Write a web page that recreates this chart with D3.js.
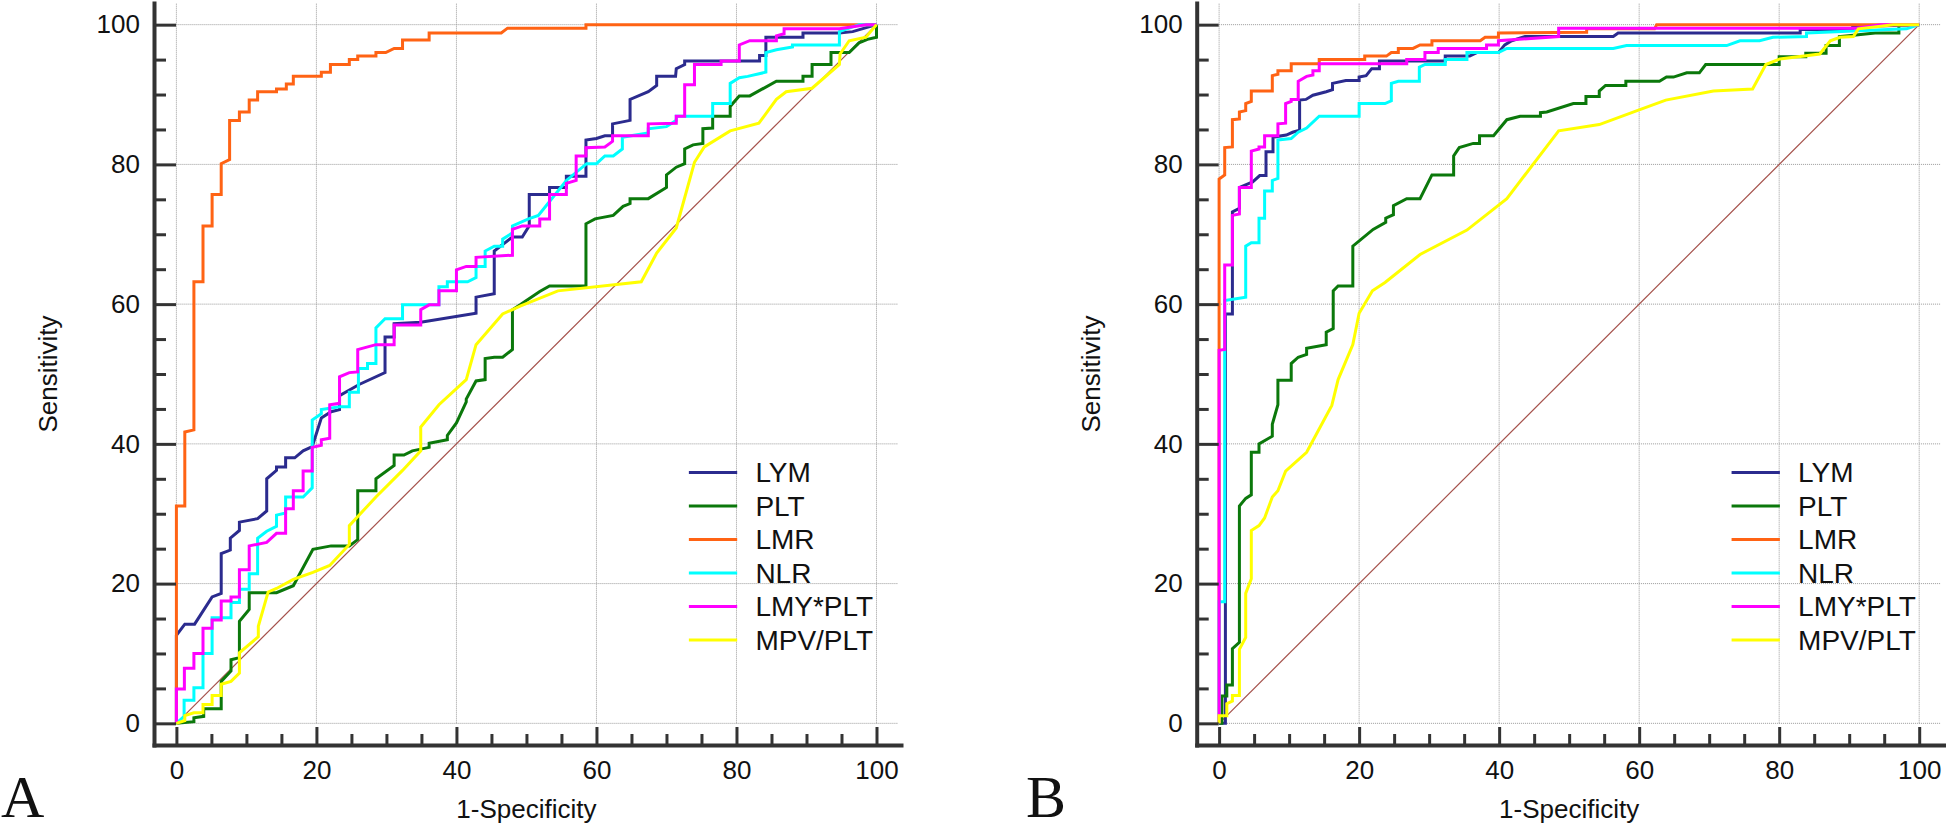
<!DOCTYPE html>
<html>
<head>
<meta charset="utf-8">
<script src="https://cdn.jsdelivr.net/npm/d3@7"></script>
<style>
body { margin: 0; background: #fff; }
svg text { font-family: "Liberation Sans", Arial, sans-serif; fill: #111; }
</style>
</head>
<body>
<svg id="chart" width="1946" height="831"></svg>
<script>
const seriesNames = ['LYM', 'PLT', 'LMR', 'NLR', 'LMY*PLT', 'MPV/PLT']
const seriesColors = ['#2b2b8e', '#0b780b', '#ff6314', '#00ffff', '#ff00ff', '#ffff00']
const majorTicks = [0, 20, 40, 60, 80, 100]
const minorTicks = [5, 10, 15, 25, 30, 35, 45, 50, 55, 65, 70, 75, 85, 90, 95]
const panelLetters = ['A', 'B']

// panel A curves, [1-specificity, sensitivity]
const lymA = [[0,0],[0,12.6],[1.2,14.2],[2.6,14.2],[5.1,18.1],[6.4,18.6],[6.4,24.3],[7.7,24.8],[7.7,26.5],[9.0,27.6],[9.0,28.8],[11.6,29.3],[12.9,30.4],[12.9,35.0],[14.3,36.2],[14.3,36.7],[15.6,36.7],[15.6,38.0],[16.9,38.0],[18.1,39.0],[19.4,39.6],[20.7,43.7],[22.1,44.6],[23.3,44.9],[23.3,46.9],[26.1,48.5],[29.8,50.2],[29.8,55.3],[31.1,55.3],[31.1,57.2],[34.9,57.4],[42.8,58.7],[42.8,61.0],[45.4,61.5],[45.4,67.6],[48.0,69.6],[49.4,69.6],[50.4,71.2],[50.4,75.7],[53.3,75.7],[53.3,76.7],[55.7,76.7],[55.7,78.3],[58.5,78.3],[58.5,83.5],[60.0,83.7],[61.2,84.1],[62.3,84.1],[62.3,85.8],[64.8,86.3],[64.8,89.3],[67.4,90.4],[68.6,91.3],[68.6,92.6],[71.3,92.6],[71.4,93.7],[72.6,94.3],[72.6,94.8],[83.3,94.8],[83.3,95.6],[84.2,95.6],[84.2,98.2],[89.5,98.2],[89.5,98.8],[94.7,98.8],[96.6,99.0],[100,100]]
const pltA = [[0,0],[2.5,0.24],[2.5,0.8],[3.9,1.0],[3.9,2.1],[6.4,2.1],[6.4,6.0],[7.8,7.5],[7.8,9.1],[9.0,9.4],[9.0,14.6],[10.4,16.3],[10.4,18.7],[14.3,18.7],[16.7,19.7],[19.5,24.9],[22.1,25.4],[24.7,25.4],[25.9,26.3],[25.9,33.3],[28.5,33.3],[28.5,35.0],[31.1,36.9],[31.1,38.4],[32.5,38.4],[33.7,39.0],[36.1,39.5],[36.1,40.1],[38.7,40.6],[38.7,41.2],[40.0,43.0],[41.4,46.0],[41.4,46.4],[42.8,49.0],[44.1,49.2],[44.1,52.2],[45.4,52.4],[46.6,52.4],[48.0,53.5],[48.0,59.2],[49.1,59.9],[51.9,61.8],[53.3,62.6],[58.5,62.6],[58.5,71.5],[59.8,72.2],[62.4,72.7],[63.8,74.0],[64.8,74.4],[64.8,75.1],[67.4,75.1],[70.0,76.7],[70.0,78.5],[71.4,79.6],[72.6,80.1],[72.6,82.2],[73.8,82.8],[75.2,83.0],[75.2,85.1],[76.6,85.2],[76.6,86.9],[79.1,86.9],[79.1,88.3],[80.4,89.8],[81.9,89.8],[85.7,91.9],[89.5,91.9],[89.5,92.6],[90.8,92.6],[90.8,94.3],[93.5,94.3],[93.5,96.0],[96.1,96.0],[97.5,97.4],[98.7,97.9],[100,98.2],[100,100]]
const lmrA = [[0,0],[0,31.1],[1.2,31.1],[1.2,41.7],[2.5,42.0],[2.5,63.2],[3.8,63.2],[3.8,71.2],[5.1,71.2],[5.1,75.7],[6.4,75.7],[6.4,80.1],[7.6,80.7],[7.6,86.3],[9.0,86.3],[9.0,87.5],[10.4,87.5],[10.4,89.2],[11.6,89.2],[11.6,90.4],[14.3,90.4],[14.3,90.8],[15.7,90.8],[15.7,91.5],[16.7,91.5],[16.7,92.6],[20.7,92.6],[20.7,93.2],[22.0,93.2],[22.0,94.3],[24.7,94.3],[24.7,95.0],[25.9,95.0],[25.9,95.5],[28.5,95.5],[28.5,96.0],[29.9,96.0],[31.1,96.6],[32.3,96.6],[32.3,97.8],[36.1,97.8],[36.1,98.8],[46.4,98.8],[47.3,99.5],[58.5,99.5],[58.5,100],[100,100]]
const nlrA = [[0,0],[1.1,1.0],[1.1,3.3],[2.5,3.3],[2.5,5.1],[3.8,5.1],[3.8,10.0],[5.1,10.0],[5.1,15.1],[7.8,15.1],[7.8,17.3],[9.0,17.3],[9.0,19.2],[10.4,19.2],[10.4,21.4],[11.6,21.4],[11.6,26.5],[12.9,27.5],[14.3,28.2],[14.3,29.8],[15.6,30.1],[15.6,32.4],[18.1,32.4],[19.4,33.7],[19.4,43.4],[20.7,44.3],[20.7,44.9],[23.3,45.3],[24.7,45.3],[24.7,47.4],[26.0,47.4],[26.0,50.8],[27.3,50.8],[27.3,51.5],[28.5,51.5],[28.5,56.6],[29.8,57.9],[32.3,57.9],[32.3,59.9],[37.5,59.9],[37.5,62.5],[38.7,62.5],[38.7,63.2],[41.6,63.2],[42.8,63.8],[42.8,65.4],[44.1,65.4],[44.1,67.6],[45.4,68.3],[46.6,68.3],[46.6,69.3],[48.0,70.2],[48.0,71.2],[50.3,72.2],[51.7,72.7],[55.7,77.7],[58.6,80.1],[60.0,80.1],[61.2,81.2],[62.4,81.2],[63.7,82.2],[63.7,83.9],[67.4,84.5],[67.4,85.1],[70.0,85.4],[71.4,86.3],[71.4,86.9],[76.6,86.9],[76.6,88.7],[79.1,88.7],[79.1,91.6],[80.4,92.4],[81.6,92.6],[84.2,93.2],[84.2,96.0],[85.7,96.4],[88.0,96.8],[88.0,97.1],[94.7,97.1],[94.7,99.0],[96.1,99.5],[97.5,100],[100,100]]
const lmyA = [[0,0],[0,4.9],[1.14,4.9],[1.14,7.9],[2.5,7.9],[2.5,10.0],[3.8,10.0],[3.8,13.6],[5.1,13.6],[5.1,14.8],[6.4,14.8],[6.4,17.5],[7.8,17.5],[7.8,18.1],[9.0,18.1],[9.0,22.0],[10.4,22.0],[10.4,25.4],[12.9,25.9],[14.3,27.2],[15.6,27.2],[15.6,30.7],[16.7,30.7],[16.7,33.3],[18.1,33.3],[18.1,36.1],[19.4,36.1],[19.4,39.5],[20.7,39.8],[20.7,40.6],[21.9,40.8],[21.9,45.6],[23.3,45.8],[23.3,49.6],[24.7,50.2],[25.9,50.3],[25.9,53.5],[28.5,54.2],[31.1,54.2],[31.1,57.0],[34.9,57.0],[34.9,59.2],[36.1,59.9],[37.5,59.9],[37.5,61.9],[40.0,61.9],[40.0,64.9],[41.4,65.4],[42.8,65.4],[42.8,66.7],[48.0,67.0],[48.0,70.7],[49.4,71.2],[51.9,71.2],[51.9,72.2],[53.3,72.2],[53.3,75.7],[55.7,75.7],[55.7,77.3],[57.1,77.7],[57.1,81.2],[58.5,81.2],[58.5,82.4],[61.2,82.5],[62.3,83.3],[62.3,84.1],[67.4,84.1],[67.4,85.8],[71.4,85.9],[71.4,86.9],[72.6,86.9],[72.6,91.4],[74.0,91.4],[74.0,94.3],[77.8,94.3],[77.8,94.8],[80.4,94.8],[80.4,97.1],[81.9,97.7],[85.7,97.7],[85.7,98.4],[86.8,98.7],[86.8,99.4],[94.7,99.4],[98.5,100],[100,100]]
const mpvA = [[0,0],[1.2,0.4],[1.2,1.1],[2.5,1.5],[3.8,1.5],[3.8,2.7],[5.1,2.7],[5.1,4.0],[6.4,4.0],[6.4,5.6],[7.8,6.0],[9.0,7.2],[9.0,10.1],[11.7,12.4],[11.7,13.9],[13.1,18.8],[14.3,19.3],[16.7,20.6],[19.5,21.6],[21.9,22.6],[24.7,25.6],[24.7,28.3],[28.5,32.4],[32.3,36.2],[34.9,39.0],[34.9,42.4],[37.5,45.6],[41.4,49.2],[42.8,54.2],[46.6,58.6],[49.1,59.7],[54.5,61.9],[66.4,63.2],[68.6,67.3],[71.4,70.9],[74.0,80.3],[75.4,82.5],[79.1,84.8],[83.2,85.9],[85.7,89.3],[87.1,90.4],[90.8,90.9],[94.7,94.3],[94.8,95.8],[96.1,97.7],[98.5,98.2],[100,100]]

// panel B curves
const lymB = [[0,0],[0.9,0],[0.9,58.6],[1.9,58.6],[1.9,73.2],[2.9,73.7],[2.9,76.7],[4.8,77.5],[5.8,78.4],[6.7,78.4],[6.7,81.8],[7.7,81.8],[7.7,83.9],[9.6,84.2],[10.5,84.6],[11.5,84.9],[11.5,89.2],[12.4,89.3],[13.4,89.9],[15.3,90.4],[16.2,90.7],[16.2,91.6],[18.1,92.0],[20.0,92.0],[20.0,92.5],[21.0,92.7],[21.8,93.7],[22.9,93.7],[22.9,94.8],[32.3,94.8],[32.3,95.5],[35.8,95.5],[36.8,96.0],[39.9,96.0],[40.8,97.1],[41.8,97.7],[43.7,98.3],[56.3,98.3],[57.0,98.8],[83.0,98.8],[83.0,99.3],[90.5,99.3],[90.5,99.7],[100,100]]
const pltB = [[0,0],[0.4,0],[0.4,3.9],[1.1,3.9],[1.1,5.5],[1.9,5.5],[1.9,10.7],[2.9,11.6],[2.9,31.1],[3.8,32.2],[4.6,32.7],[4.6,38.8],[5.7,38.8],[5.7,40.0],[7.6,41.1],[7.6,42.8],[8.4,45.6],[8.4,49.1],[10.3,49.1],[10.3,51.5],[11.3,52.4],[12.5,52.8],[12.5,53.7],[15.3,54.2],[15.3,56.0],[16.3,56.5],[16.3,61.9],[17.0,62.6],[19.1,62.6],[19.1,68.3],[22.0,70.7],[23.8,71.7],[23.8,72.3],[24.9,72.8],[24.9,74.1],[26.8,75.1],[28.7,75.1],[30.4,78.5],[33.5,78.5],[33.5,81.2],[34.3,82.4],[36.3,83.0],[37.2,83.0],[37.2,84.1],[39.2,84.1],[41.1,86.4],[43.0,86.9],[45.9,86.9],[45.9,87.4],[46.8,87.5],[50.6,88.7],[52.4,88.7],[52.4,89.7],[54.3,89.7],[54.3,90.5],[55.2,91.3],[58.1,91.3],[58.1,91.9],[62.9,91.9],[63.9,92.5],[64.9,92.5],[66.8,93.1],[68.6,93.1],[69.5,94.3],[80.0,94.3],[80.0,95.4],[83.8,95.4],[83.8,95.9],[86.7,95.9],[86.7,97.0],[88.6,97.0],[88.6,98.3],[90.6,98.5],[93.7,98.8],[97.1,98.8],[97.1,100],[100,100]]
const lmrB = [[0,0],[0,77.9],[0.8,78.5],[0.8,82.4],[1.9,82.5],[1.9,86.4],[2.9,86.5],[2.9,87.5],[3.8,87.7],[3.8,88.7],[4.6,89.0],[4.6,90.5],[7.6,90.5],[7.6,92.7],[8.4,92.9],[8.4,93.4],[10.3,93.4],[10.3,94.4],[14.3,94.4],[14.3,95.0],[20.8,95.0],[20.8,95.5],[23.9,95.5],[24.6,96.0],[25.6,96.0],[25.6,96.6],[27.7,96.6],[28.7,97.1],[30.4,97.1],[30.4,97.7],[37.3,97.7],[38.0,98.2],[39.9,98.2],[39.9,98.8],[52.5,98.9],[52.5,99.4],[62.2,99.4],[62.5,100],[100,100]]
const nlrB = [[0,0],[0,17.4],[0.8,17.4],[0.8,60.5],[3.8,61.0],[3.8,68.3],[4.6,68.8],[5.7,68.8],[5.7,72.3],[6.5,72.3],[6.5,76.2],[7.6,76.2],[7.6,77.7],[8.4,78.0],[8.4,83.5],[10.3,83.7],[11.3,84.6],[12.5,85.2],[14.3,86.9],[20.0,86.9],[20.0,88.7],[23.7,88.7],[24.6,89.1],[24.6,91.6],[25.6,91.9],[28.6,91.9],[28.6,93.9],[29.4,94.3],[32.3,94.3],[32.3,95.0],[35.4,95.0],[35.4,96.0],[39.9,96.0],[41.1,96.6],[56.3,96.6],[58.2,97.0],[72.5,97.0],[74.4,97.7],[77.2,97.7],[79.1,98.2],[83.9,98.3],[83.9,98.8],[98.2,99.4],[100,100]]
const lmyB = [[0,0],[0,53.4],[0.8,53.5],[0.8,65.6],[1.9,65.6],[1.9,72.7],[2.9,72.9],[2.9,76.7],[4.6,76.7],[4.6,81.9],[5.7,82.2],[5.7,82.5],[6.5,82.5],[6.5,84.1],[8.4,84.1],[8.4,85.8],[9.5,85.9],[9.5,88.7],[10.3,89.0],[10.3,89.3],[11.3,89.3],[11.3,91.9],[12.5,92.6],[13.4,92.8],[13.4,93.4],[14.3,93.4],[14.3,94.4],[26.8,94.4],[26.8,95.0],[29.4,95.0],[29.4,96.0],[31.3,96.0],[31.3,96.6],[38.2,96.6],[38.2,97.1],[39.9,97.1],[39.9,97.7],[48.5,98.3],[48.5,99.5],[91.0,99.5],[94.5,100],[100,100]]
const mpvB = [[0,0],[0,1.1],[1.1,1.1],[1.1,2.8],[1.9,3.2],[1.9,4.0],[2.9,4.0],[2.9,10.6],[3.8,12.3],[3.8,18.6],[4.6,20.7],[4.6,27.6],[5.7,28.3],[6.5,29.4],[7.6,32.4],[8.4,33.3],[9.5,36.1],[12.5,38.8],[16.1,45.5],[17.0,49.2],[19.1,54.2],[20.0,58.7],[21.9,61.9],[23.7,63.1],[28.7,67.1],[35.4,70.6],[41.1,75.1],[48.5,84.8],[54.3,85.7],[60.0,87.8],[63.8,89.2],[70.6,90.5],[76.2,90.8],[78.1,94.3],[80.1,95.1],[85.8,95.8],[87.3,97.7],[88.7,98.2],[90.6,98.3],[91.3,99.4],[96.3,100],[100,100]]

const svg = d3.select('#chart')

function createPanel(left, letterX, letter, curves) {
  const x = d3.scaleLinear().domain([-3.2, 103.5]).range([left, left + 747])
  const y = d3.scaleLinear().domain([-3.1, 103.1]).range([745, 3])
  const g = svg.append('g')

  // dotted grid
  g.append('g')
  .selectAll('line')
  .data(majorTicks)
  .enter()
  .append('line')
  .attr('x1', d => x(d)).attr('x2', d => x(d))
  .attr('y1', y(0)).attr('y2', y(103.1))
  .attr('stroke', '#9a9a9a')
  .attr('stroke-width', 1)
  .attr('stroke-dasharray', '1,1')

  g.append('g')
  .selectAll('line')
  .data(majorTicks)
  .enter()
  .append('line')
  .attr('x1', x(0)).attr('x2', x(103.1))
  .attr('y1', d => y(d)).attr('y2', d => y(d))
  .attr('stroke', '#9a9a9a')
  .attr('stroke-width', 1)
  .attr('stroke-dasharray', '1,1')

  // reference diagonal
  g.append('line')
  .attr('x1', x(0)).attr('y1', y(0))
  .attr('x2', x(100)).attr('y2', y(100))
  .attr('stroke', '#a5524c')
  .attr('stroke-width', 1.2)

  const line = d3.line().x(d => x(d[0])).y(d => y(d[1]))
  g.append('g')
  .selectAll('path')
  .data(curves)
  .enter()
  .append('path')
  .attr('fill', 'none')
  .attr('stroke', (d, i) => seriesColors[i])
  .attr('stroke-width', 3)
  .attr('d', line)

  // axes, ticks pointing inward
  const yAxis = g.append('g')
  .attr('transform', `translate(${x(-3.2)},0)`)
  .call(d3.axisLeft(y).tickValues(majorTicks).tickSizeInner(-22).tickSizeOuter(0).tickPadding(14))
  yAxis.append('g')
  .call(d3.axisLeft(y).tickValues(minorTicks).tickSizeInner(-12).tickSizeOuter(0).tickFormat(''))
  .select('.domain').remove()

  const xAxis = g.append('g')
  .attr('transform', `translate(0,${y(-3.1)})`)
  .call(d3.axisBottom(x).tickValues(majorTicks).tickSizeInner(-18).tickSizeOuter(0).tickPadding(16))
  xAxis.append('g')
  .call(d3.axisBottom(x).tickValues(minorTicks).tickSizeInner(-11).tickSizeOuter(0).tickFormat(''))
  .select('.domain').remove()

  g.selectAll('.domain').attr('stroke', '#333').attr('stroke-width', 4).attr('stroke-linecap', 'square')
  g.selectAll('.tick line').attr('stroke', '#333').attr('stroke-width', 3)
  g.selectAll('.tick text')
  .attr('font-family', '"Liberation Sans", Arial, sans-serif')
  .attr('font-size', 26)
  .attr('fill', '#111')
  g.selectAll('g[font-size]').attr('font-size', null).attr('font-family', null)

  // legend
  const legend = g.append('g')
  .selectAll('g')
  .data(seriesNames)
  .enter()
  .append('g')
  .attr('transform', (d, i) => `translate(0,${472.5 + i * 33.5})`)
  legend.append('line')
  .attr('x1', x(73.2)).attr('x2', x(80.1))
  .attr('stroke', (d, i) => seriesColors[i])
  .attr('stroke-width', 3)
  legend.append('text')
  .attr('x', x(82.7))
  .attr('dy', '0.35em')
  .attr('font-size', 28)
  .text(d => d)

  // axis titles
  g.append('text')
  .attr('x', x(50)).attr('y', 818)
  .attr('text-anchor', 'middle')
  .attr('font-size', 26)
  .text('1-Specificity')

  g.append('text')
  .attr('transform', `translate(${x(-3.2) - 97},${y(50)}) rotate(-90)`)
  .attr('text-anchor', 'middle')
  .attr('font-size', 26)
  .text('Sensitivity')

  // panel letter
  g.append('text')
  .attr('x', letterX)
  .attr('y', 817)
  .attr('font-size', 60)
  .style('font-family', '"Liberation Serif", "Times New Roman", serif')
  .text(letter)
}

createPanel(154, 1, panelLetters[0], [lymA, pltA, lmrA, nlrA, lmyA, mpvA])
createPanel(1196.7, 1026, panelLetters[1], [lymB, pltB, lmrB, nlrB, lmyB, mpvB])
</script>
</body>
</html>
